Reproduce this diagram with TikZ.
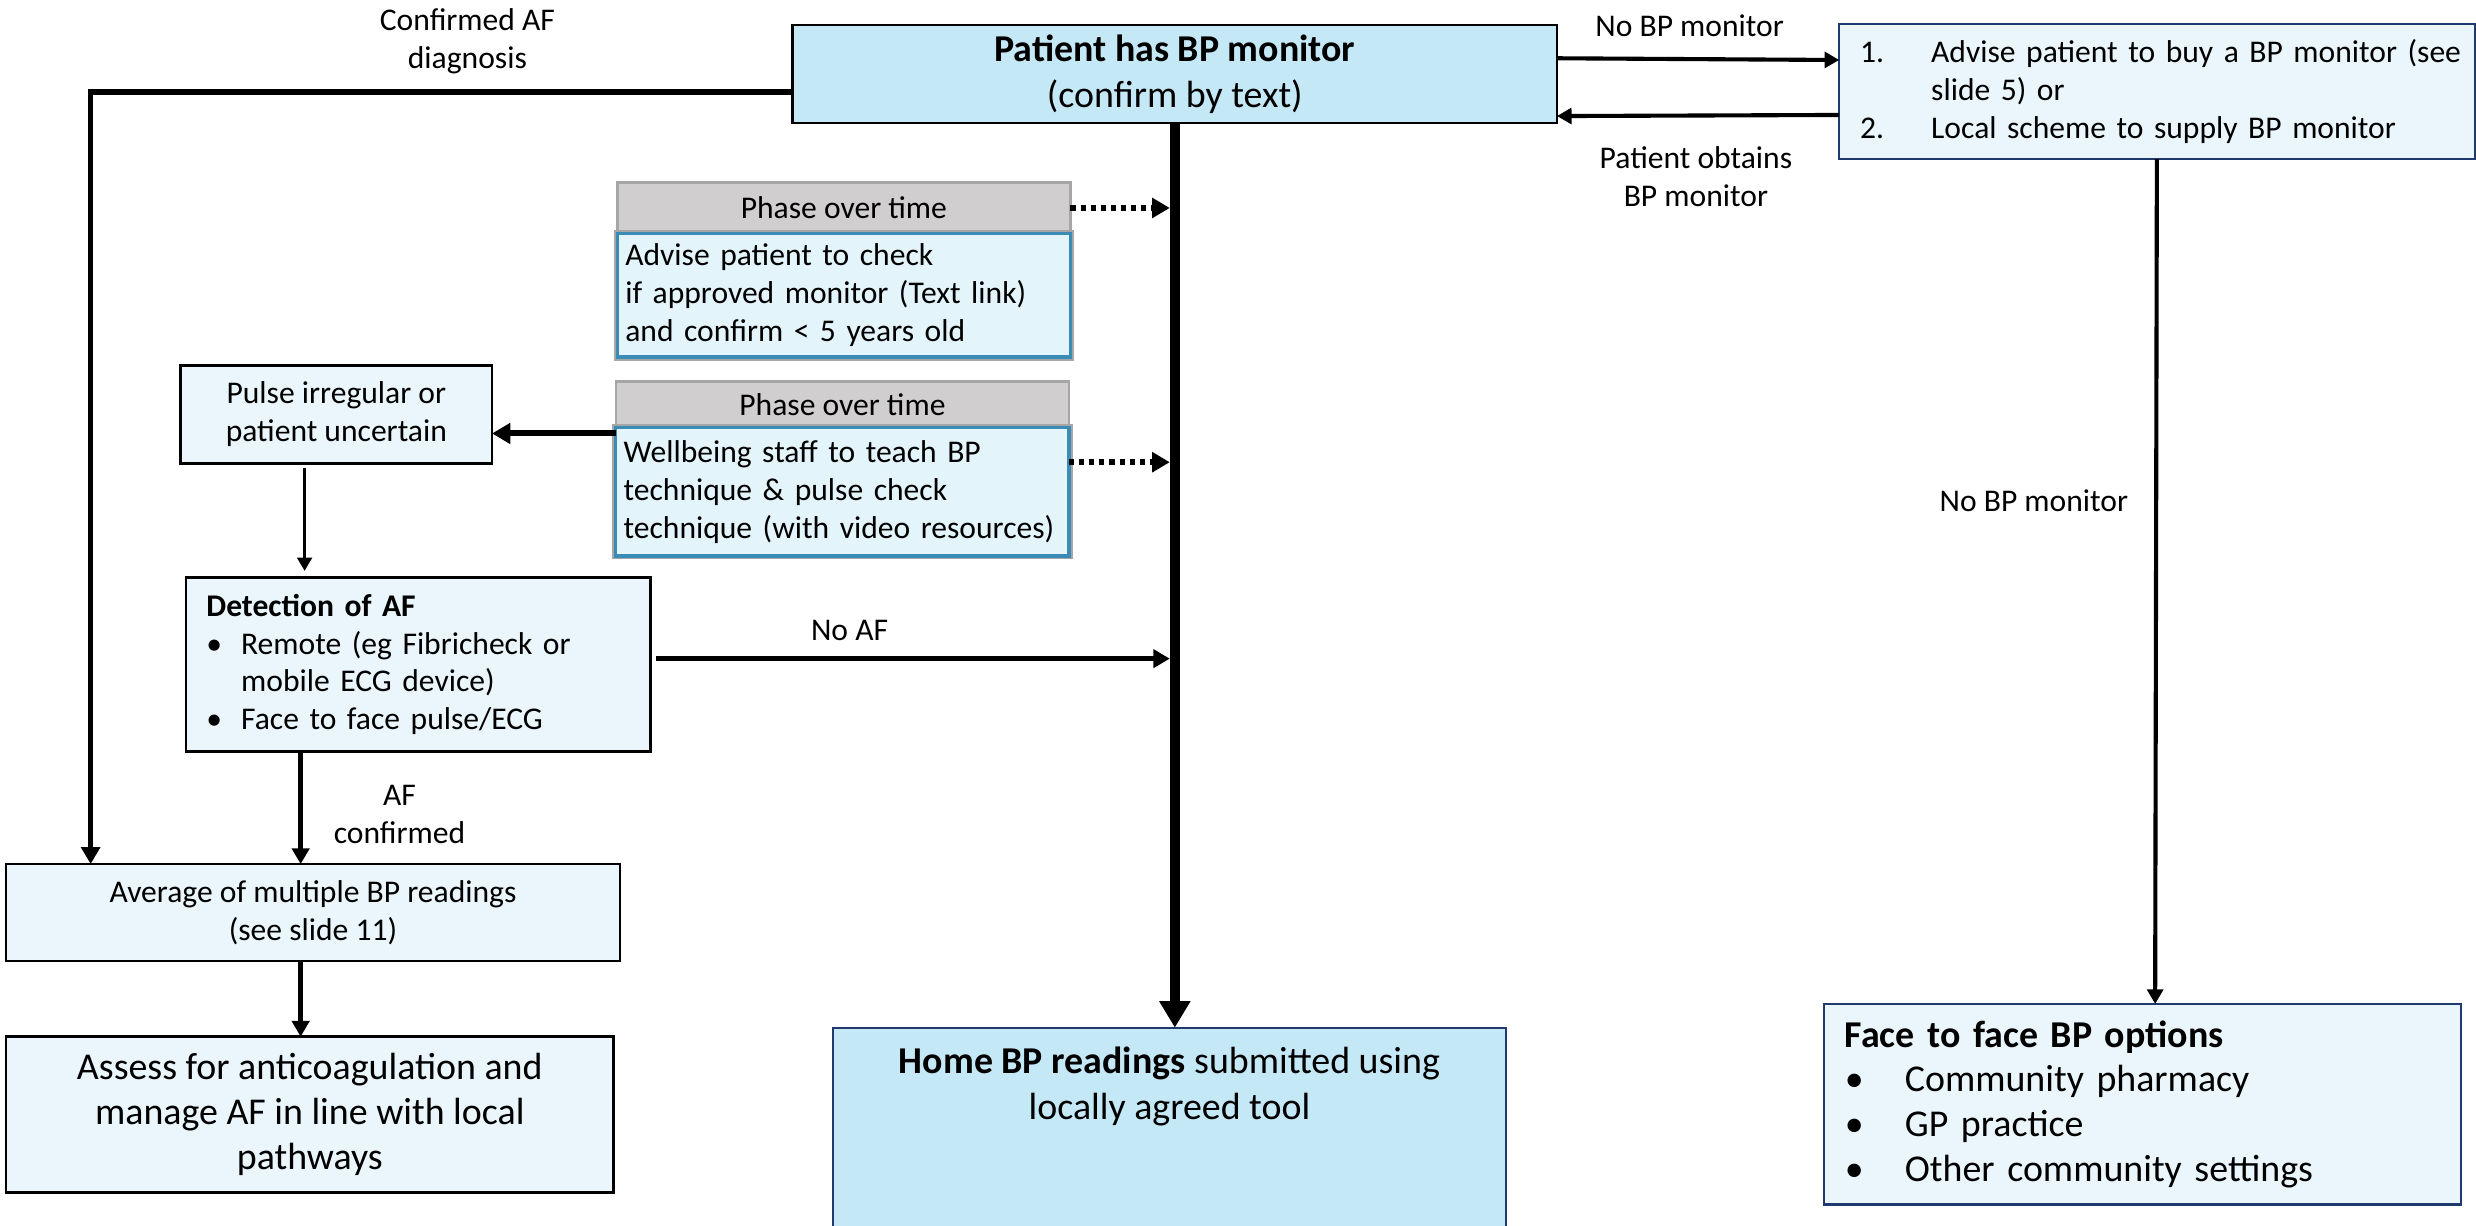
\documentclass[tikz,border=0pt]{standalone}
\usepackage{fontspec}
\setmainfont{Carlito}
\usetikzlibrary{arrows.meta,positioning}
\definecolor{darkfill}{HTML}{C5E8F6}
\definecolor{lightfill}{HTML}{EAF6FB}
\definecolor{headfill}{HTML}{D0CECE}
\definecolor{headline}{HTML}{A6A6A6}
\definecolor{tipfill}{HTML}{E3F4FB}
\definecolor{tipline}{HTML}{3A8BB5}
\definecolor{navyline}{HTML}{1F3A6E}
\tikzset{
    %Define standard arrow tip
    >={Triangle[length=2pt 2,width=2pt 2.3]},
    %Define style for boxes
    topbox/.style={
           rectangle,
           draw=black, line width=0.8pt,
           fill=darkfill,
           inner sep=0pt, outer sep=0pt,
           font=\fontsize{12}{14.5}\selectfont,
           align=center},
    plainbox/.style={
           rectangle,
           draw=black, line width=0.8pt,
           fill=lightfill,
           inner sep=0pt, outer sep=0pt,
           font=\fontsize{10}{12}\selectfont,
           align=center},
    navybox/.style={
           rectangle,
           draw=navyline, line width=0.7pt,
           fill=lightfill,
           inner sep=0pt, outer sep=0pt,
           font=\fontsize{10}{12}\selectfont},
    phasehead/.style={
           rectangle,
           draw=headline, line width=0.8pt,
           fill=headfill,
           inner sep=0pt, outer sep=0pt,
           font=\fontsize{10}{12}\selectfont},
    phasebody/.style={
           rectangle,
           preaction={draw=headline, line width=2.2pt},
           draw=tipline, line width=1pt,
           fill=tipfill,
           inner sep=0pt, outer sep=0pt,
           font=\fontsize{10}{12}\selectfont,
           align=left},
    lab/.style={
           inner sep=0pt,
           font=\fontsize{10}{12}\selectfont,
           align=center},
    % Define arrow style
    flow/.style={->, line width=#1},
    flow/.default=1.5pt,
    phaselink/.style={
           ->,
           line width=1.8pt,
           dash pattern=on 1.6pt off 1.6pt,
           shorten >=1.6pt}
}
\begin{document}
\begin{tikzpicture}[x=0.5pt,y=-0.5pt]
\path[use as bounding box, fill=white] (0,0) rectangle (1568,776);
% boxes
\node[topbox, minimum width=242pt, minimum height=31pt] (hasbp) at (744,46.9)
    {\textbf{Patient has BP monitor}\\(confirm by text)};
\node[navybox, text width=187.9pt, inner xsep=6.65pt, minimum height=42.8pt, align=left] (nobp) at (1365.9,58)
    {\mbox{\makebox[22.5pt][l]{1.}Advise patient to buy a BP monitor (see}\\
     \hspace*{22.5pt}slide 5) or\\
     \makebox[22.5pt][l]{2.}Local scheme to supply BP monitor};
\node[phasehead, minimum width=143.5pt, minimum height=16pt] (ph1h) at (534.4,131.7) {Phase over time};
\node[phasebody, below=0pt of ph1h, text width=138.4pt, inner xsep=2.55pt, minimum height=39.2pt] (ph1b)
    {Advise patient to check\\if approved monitor (Text link)\\and confirm < 5 years old};
\node[phasehead, minimum width=143.5pt, minimum height=14.5pt] (ph2h) at (533.5,256.2) {Phase over time};
\node[phasebody, below=0pt of ph2h, text width=138.6pt, inner xsep=2.45pt, minimum height=40.7pt] (ph2b)
    {Wellbeing staff to teach BP\\technique \& pulse check\\technique (with video resources)};
\node[plainbox, minimum width=98.6pt, minimum height=30.9pt] (pulse) at (213,262.5)
    {Pulse irregular or\\patient uncertain};
\node[plainbox, text width=134.1pt, inner xsep=6.5pt, minimum height=55.2pt, align=left] (detect) at (264.8,420.8)
    {\textbf{Detection of AF}\\
     \makebox[11pt][l]{\textbullet}Remote (eg Fibricheck or\\
     \hspace*{11pt}mobile ECG device)\\
     \makebox[11pt][l]{\textbullet}Face to face pulse/ECG};
\node[plainbox, minimum width=194.3pt, minimum height=30.7pt] (avg) at (198.2,577.9)
    {Average of multiple BP readings\\(see slide 11)};
\node[plainbox, minimum width=192.4pt, minimum height=49.4pt, font=\fontsize{12}{14.3}\selectfont] (assess) at (196.2,705.9)
    {Assess for anticoagulation and\\manage AF in line with local\\pathways};
\node[topbox, draw=navyline, line width=0.7pt, anchor=north, minimum width=213.2pt, inner ysep=6pt] (home) at (740.6,650.8)
    {\textbf{Home BP readings} submitted using\\locally agreed tool\\[30pt]\mbox{}};
\node[navybox, text width=188.5pt, inner xsep=6.5pt, minimum height=63.5pt, align=left, font=\fontsize{12}{14.2}\selectfont] (f2f) at (1356.8,699.3)
    {\textbf{Face to face BP options}\\
     \makebox[19pt][l]{\textbullet}Community pharmacy\\
     \makebox[19pt][l]{\textbullet}GP practice\\
     \makebox[19pt][l]{\textbullet}Other community settings};
% labels
\node[lab] (cafd) at (296,26) {Confirmed AF\\diagnosis};
\node[lab] (nobptop) at (1070,16) {No BP monitor};
\node[lab] (obtains) at (1074,112) {Patient obtains\\BP monitor};
\node[lab] (noaf) at (538,399) {No AF};
\node[lab] (afconf) at (253,515.5) {AF\\confirmed};
\node[lab] (nobpside) at (1288,317) {No BP monitor};
% connectors
\draw[flow=1.3pt] ([yshift=5pt]hasbp.east) -- ([yshift=10pt]nobp.west);
\draw[flow=1.3pt] ([yshift=-7.4pt]nobp.west) -- ([yshift=-13.3pt]hasbp.east);
\draw[flow=1.7pt] ([yshift=-5.7pt]hasbp.west) -| ([xshift=-70.4pt]avg.north);
\draw[flow=3.2pt] (hasbp.south) -- (hasbp.south |- home.north);
\draw[phaselink] (ph1h.east) -- (ph1h.east -| hasbp.south);
\draw[phaselink] ([yshift=9.35pt]ph2b.east) -- ([yshift=9.35pt]ph2b.east -| hasbp.south);
\draw[flow=1.9pt] ([yshift=18.45pt]ph2b.west) -- ([yshift=18.45pt]ph2b.west -| pulse.east);
\draw[flow=1.1pt, shorten <=1.5pt, shorten >=2pt] ([xshift=-10.05pt]pulse.south) -- ([xshift=-10.05pt]pulse.south |- detect.north);
\draw[flow=1.6pt, shorten <=1.8pt, shorten >=1.6pt] ([yshift=1.85pt]detect.east) -- ([yshift=1.85pt]detect.east -| hasbp.south);
\draw[flow] ([xshift=-37.2pt]detect.south) -- ([xshift=-37.2pt]detect.south |- avg.north);
\draw[flow] ([xshift=-3.9pt]avg.south) -- ([xshift=-3.9pt]avg.south |- assess.north);
\draw[flow=1.3pt] (nobp.south) -- ([xshift=4pt]f2f.north);
\end{tikzpicture}
\end{document}
